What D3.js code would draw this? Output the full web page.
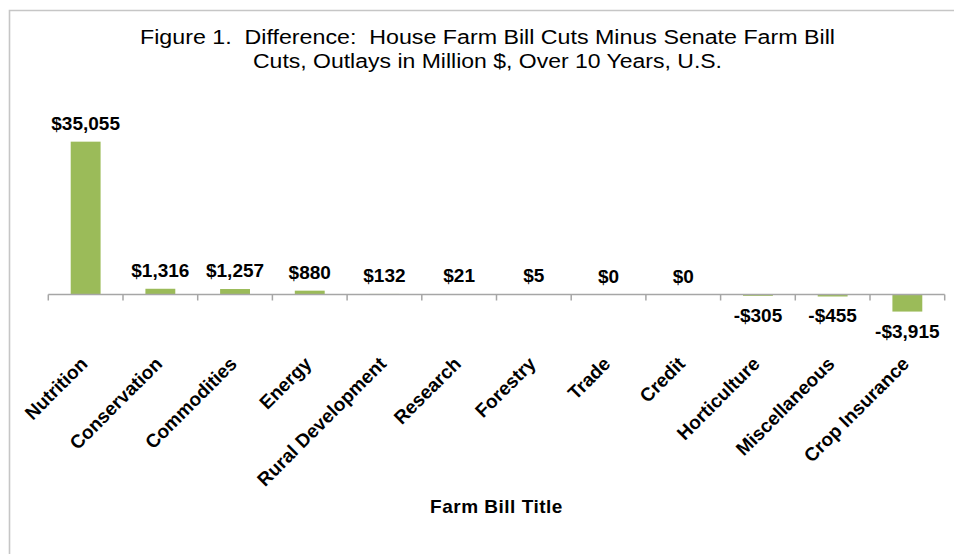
<!DOCTYPE html>
<html>
<head>
<meta charset="utf-8">
<script src="https://cdn.jsdelivr.net/npm/d3@7"></script>
<style>
  html, body { margin: 0; padding: 0; background: #fff; }
  svg { display: block; }
  text { font-family: "Liberation Sans", Arial, sans-serif; white-space: pre; }
</style>
</head>
<body>
<svg id="chart" width="954" height="554"></svg>
<script>
// ---- Data ----
const categories = ["Nutrition", "Conservation", "Commodities", "Energy", "Rural Development",
  "Research", "Forestry", "Trade", "Credit", "Horticulture", "Miscellaneous", "Crop Insurance"];
const values = [35055, 1316, 1257, 880, 132, 21, 5, 0, 0, -305, -455, -3915];
const titleLines = ["Figure 1.  Difference:  House Farm Bill Cuts Minus Senate Farm Bill",
  "Cuts, Outlays in Million $, Over 10 Years, U.S."];
const xAxisTitle = "Farm Bill Title";

// ---- Layout ----
const W = 954, H = 554;
const svg = d3.select("#chart");

// frame
svg.append("path")
  .attr("d", `M9.5,${H} L9.5,10.5 L${W},10.5`)
  .attr("fill", "none")
  .attr("stroke", "#c6c6c6")
  .attr("stroke-width", 1.6);

const x = d3.scaleBand()
  .domain(categories)
  .range([48.3, 944.7])
  .paddingInner(0.6)
  .paddingOuter(0.3);

const y = d3.scaleLinear()
  .domain([-5000, 40000])
  .range([316.3, 120.1]);

const y0 = y(0);

// title (horizontally stretched like the original)
const titleWidths = [695, 469];
svg.append("g")
  .selectAll("text")
  .data(titleLines)
  .join("text")
  .attr("x", 487.5)
  .attr("y", (d, i) => 44 + i * 24)
  .attr("text-anchor", "middle")
  .attr("textLength", (d, i) => titleWidths[i])
  .attr("lengthAdjust", "spacingAndGlyphs")
  .style("font-size", "20px")
  .text(d => d);

// bars
svg.append("g")
  .selectAll("rect")
  .data(categories)
  .join("rect")
  .attr("x", d => x(d))
  .attr("width", x.bandwidth())
  .attr("y", (d, i) => Math.min(y(values[i]), y0))
  .attr("height", (d, i) => Math.abs(y(values[i]) - y0))
  .attr("fill", "#9BBB59");

// axis line with tick marks between categories
const step = x.step();
const edges = d3.range(categories.length + 1).map(i => x.range()[0] + i * step);
const axisG = svg.append("g");
axisG.append("line")
  .attr("x1", edges[0]).attr("x2", edges[edges.length - 1])
  .attr("y1", y0).attr("y2", y0)
  .attr("stroke", "#a6a6a6").attr("stroke-width", 1.5);
axisG.selectAll(".tick")
  .data(edges)
  .join("line")
  .attr("x1", d => d).attr("x2", d => d)
  .attr("y1", y0).attr("y2", y0 + 6)
  .attr("stroke", "#a6a6a6").attr("stroke-width", 1.5);

// value labels
const fmt = d3.format(",");
svg.append("g")
  .selectAll("text")
  .data(categories)
  .join("text")
  .attr("x", d => x(d) + x.bandwidth() / 2)
  .attr("y", (d, i) => values[i] >= 0 ? y(values[i]) - 12 : y(values[i]) + 26)
  .attr("text-anchor", "middle")
  .style("font-size", "19px")
  .style("font-weight", "bold")
  .text((d, i) => (values[i] < 0 ? "-" : "") + "$" + fmt(Math.abs(values[i])));

// category labels
svg.append("g")
  .selectAll("text")
  .data(categories)
  .join("text")
  .attr("transform", d => `translate(${x(d) + x.bandwidth() / 2 + 3},${365}) rotate(-45)`)
  .attr("text-anchor", "end")
  .style("font-size", "19px")
  .style("font-weight", "bold")
  .text(d => d);

// axis title
svg.append("text")
  .attr("x", (x.range()[0] + x.range()[1]) / 2)
  .attr("y", 513)
  .attr("text-anchor", "middle")
  .style("font-size", "19px")
  .style("font-weight", "bold")
  .style("letter-spacing", "0.5px")
  .text(xAxisTitle);
</script>
</body>
</html>
